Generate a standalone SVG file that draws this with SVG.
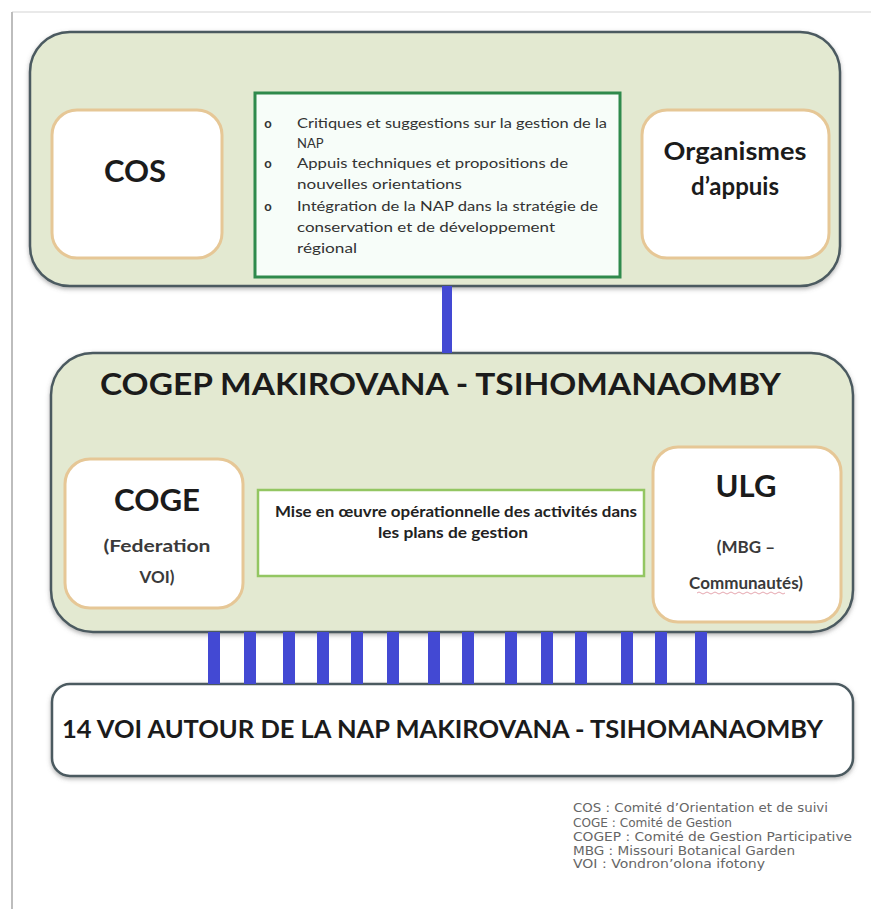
<svg xmlns="http://www.w3.org/2000/svg" width="871" height="909" viewBox="0 0 871 909">
<defs>
<filter id="sh" x="-5%" y="-5%" width="110%" height="115%">
<feDropShadow dx="0" dy="2" stdDeviation="2" flood-color="#666" flood-opacity="0.5"/>
</filter>
<style>
.outer{fill:#e3e9d1;stroke:#4b5a60;stroke-width:2.5}
.bottom{fill:#ffffff;stroke:#4b5a60;stroke-width:2.5}
.tan{fill:#ffffff;stroke:#e6c796;stroke-width:3}
.big{font-family:Lato,"Liberation Sans",sans-serif;font-weight:bold;fill:#1b1b1b}
.sub{font-family:Lato,"Liberation Sans",sans-serif;font-weight:bold;fill:#3a3a3a;font-size:17px;text-anchor:middle}
.bul{font-family:Lato,"Liberation Sans",sans-serif;font-size:13px;fill:#333}
.dot{font-family:Lato,"Liberation Sans",sans-serif;font-size:13px;font-weight:bold;fill:#333;text-anchor:middle}
.mise{font-family:Lato,"Liberation Sans",sans-serif;font-weight:bold;font-size:14.5px;fill:#222}
.leg{font-family:"DejaVu Sans","Liberation Sans",sans-serif;font-size:11.5px;fill:#666}
.bar{fill:#4349d3}
</style>
</defs>
<rect x="0" y="0" width="871" height="909" fill="#ffffff"/>
<line x1="12" y1="12" x2="871" y2="12" stroke="#e2e2e2" stroke-width="1.5"/>
<line x1="12" y1="12" x2="12" y2="909" stroke="#bdbdbd" stroke-width="2"/>

<g id="top-group">
<rect class="outer" x="30" y="32" width="810" height="254" rx="40" filter="url(#sh)"/>
</g>
<g id="cos">
<rect class="tan" x="52" y="110" width="170" height="148" rx="25"/>
<text class="big" x="135" y="182" font-size="31" text-anchor="middle">COS</text>
</g>
<g id="roles-cos">
<rect x="255" y="93" width="365" height="184" fill="#f7fdf9" stroke="#2f8a4c" stroke-width="3"/>
<text class="dot" x="268" y="128">o</text>
<text class="bul" x="297" y="128" textLength="310" lengthAdjust="spacingAndGlyphs">Critiques et suggestions sur la gestion de la</text>
<text class="bul" x="297" y="148">NAP</text>
<text class="dot" x="268" y="168">o</text>
<text class="bul" x="297" y="168" textLength="271" lengthAdjust="spacingAndGlyphs">Appuis techniques et propositions de</text>
<text class="bul" x="297" y="189" textLength="165" lengthAdjust="spacingAndGlyphs">nouvelles orientations</text>
<text class="dot" x="268" y="211">o</text>
<text class="bul" x="297" y="211" textLength="301" lengthAdjust="spacingAndGlyphs">Intégration de la NAP dans la stratégie de</text>
<text class="bul" x="297" y="232" textLength="258" lengthAdjust="spacingAndGlyphs">conservation et de développement</text>
<text class="bul" x="297" y="253" textLength="60" lengthAdjust="spacingAndGlyphs">régional</text>
</g>
<g id="organismes">
<rect class="tan" x="642" y="110" width="187" height="148" rx="25"/>
<text class="big" x="735" y="160" font-size="24" text-anchor="middle" textLength="143" lengthAdjust="spacingAndGlyphs">Organismes</text>
<text class="big" x="735" y="195" font-size="24" text-anchor="middle">d’appuis</text>
</g>

<g id="cogep">
<rect class="outer" x="51" y="353" width="802" height="279" rx="42" filter="url(#sh)"/>
<text class="big" x="100" y="395" font-size="30" textLength="681" lengthAdjust="spacingAndGlyphs">COGEP MAKIROVANA - TSIHOMANAOMBY</text>
</g>
<g id="coge">
<rect class="tan" x="65" y="459" width="178" height="149" rx="25"/>
<text class="big" x="157" y="511" font-size="31" text-anchor="middle" textLength="86" lengthAdjust="spacingAndGlyphs">COGE</text>
<text class="sub" x="157" y="552" textLength="107" lengthAdjust="spacingAndGlyphs">(Federation</text>
<text class="sub" x="157" y="583">VOI)</text>
</g>
<g id="mise">
<rect x="258" y="490" width="386" height="86" fill="#ffffff" stroke="#93c662" stroke-width="2.5"/>
<text class="mise" x="275" y="517" textLength="362" lengthAdjust="spacingAndGlyphs">Mise en œuvre opérationnelle des activités dans</text>
<text class="mise" x="378" y="538" textLength="150" lengthAdjust="spacingAndGlyphs">les plans de gestion</text>
</g>
<g id="ulg">
<rect class="tan" x="653" y="447" width="188" height="175" rx="25"/>
<text class="big" x="746" y="497" font-size="31" text-anchor="middle">ULG</text>
<text class="sub" x="746" y="553">(MBG –</text>
<text class="sub" x="746" y="589">Communautés)</text>
<path d="M697 593 q2 -2 4 0 t4 0 t4 0 t4 0 t4 0 t4 0 t4 0 t4 0 t4 0 t4 0 t4 0 t4 0 t4 0 t4 0 t4 0 t4 0 t4 0 t4 0 t4 0 t4 0 t4 0 t4 0" fill="none" stroke="#d06070" stroke-width="0.8" opacity="0.7"/>
</g>

<g id="voi">
<rect class="bottom" x="52" y="684" width="801" height="92" rx="18" filter="url(#sh)"/>
<text class="big" x="62" y="738" font-size="25" textLength="761" lengthAdjust="spacingAndGlyphs">14 VOI AUTOUR DE LA NAP MAKIROVANA - TSIHOMANAOMBY</text>
</g>

<g id="connectors">
<rect class="bar" x="442" y="286" width="10" height="67"/>
<rect class="bar" x="208" y="632" width="12" height="52"/>
<rect class="bar" x="244" y="632" width="12" height="52"/>
<rect class="bar" x="283" y="632" width="12" height="52"/>
<rect class="bar" x="317" y="632" width="12" height="52"/>
<rect class="bar" x="351" y="632" width="12" height="52"/>
<rect class="bar" x="387" y="632" width="12" height="52"/>
<rect class="bar" x="428" y="632" width="12" height="52"/>
<rect class="bar" x="462" y="632" width="12" height="52"/>
<rect class="bar" x="505" y="632" width="12" height="52"/>
<rect class="bar" x="541" y="632" width="12" height="52"/>
<rect class="bar" x="575" y="632" width="12" height="52"/>
<rect class="bar" x="621" y="632" width="12" height="52"/>
<rect class="bar" x="655" y="632" width="12" height="52"/>
<rect class="bar" x="695" y="632" width="12" height="52"/>
</g>

<g id="legend">
<text class="leg" x="573" y="812" textLength="255" lengthAdjust="spacingAndGlyphs">COS : Comité d’Orientation et de suivi</text>
<text class="leg" x="573" y="827" textLength="159" lengthAdjust="spacingAndGlyphs">COGE : Comité de Gestion</text>
<text class="leg" x="573" y="841" textLength="279" lengthAdjust="spacingAndGlyphs">COGEP  : Comité de Gestion Participative</text>
<text class="leg" x="573" y="855" textLength="222" lengthAdjust="spacingAndGlyphs">MBG : Missouri Botanical Garden</text>
<text class="leg" x="573" y="868" textLength="192" lengthAdjust="spacingAndGlyphs">VOI : Vondron’olona ifotony</text>
</g>
</svg>
